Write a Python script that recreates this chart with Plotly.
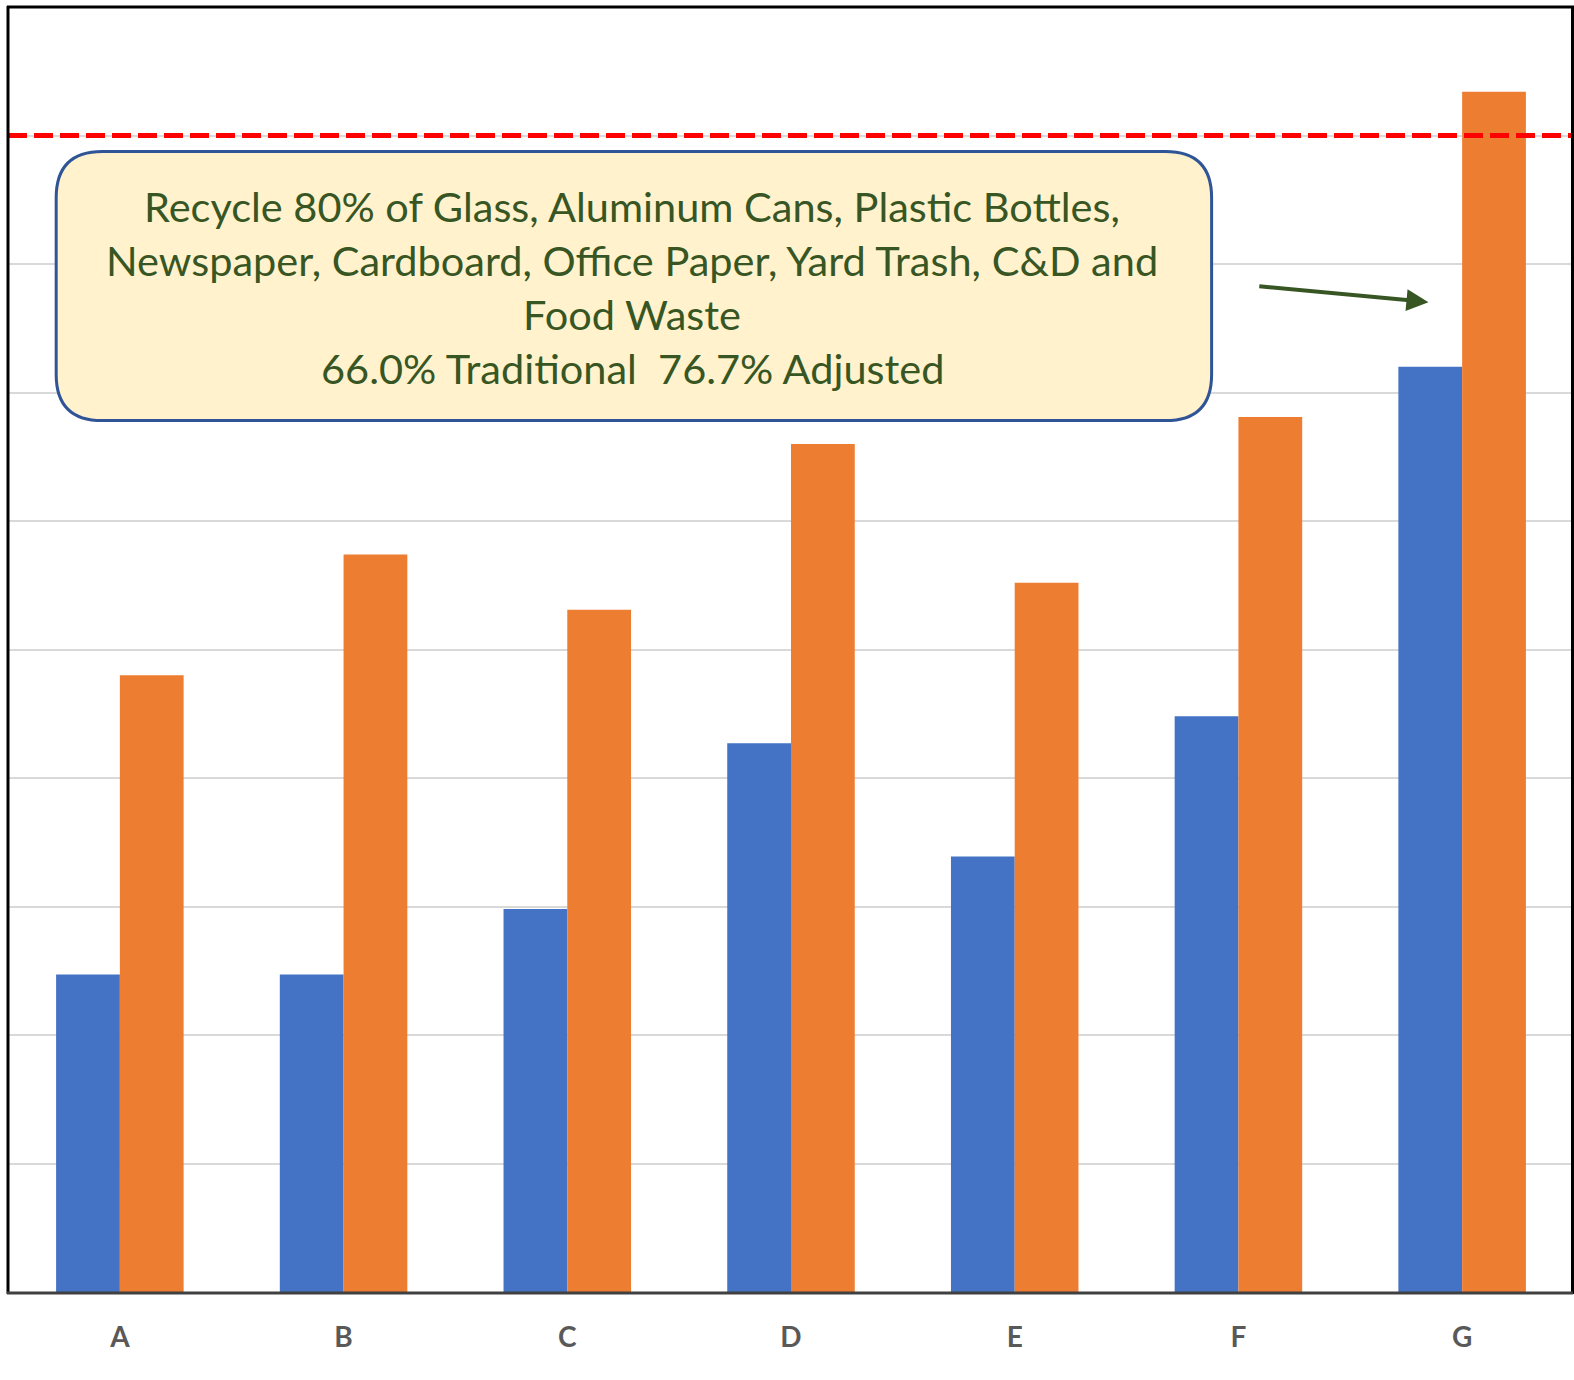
import plotly.graph_objects as go

categories = ["A", "B", "C", "D", "E", "F", "G"]
traditional = [24.7, 24.7, 29.8, 42.7, 33.9, 44.8, 72.0]
adjusted = [48.0, 57.4, 53.1, 66.0, 55.2, 68.1, 93.4]
goal_value = 90
y_range = [0, 100]
box_lines = [
    "Recycle 80% of Glass, Aluminum Cans, Plastic Bottles,",
    "Newspaper, Cardboard, Office Paper, Yard Trash, C&D and",
    "Food Waste",
    "66.0% Traditional  76.7% Adjusted",
]

W, H = 1574, 1380
S = 1574 / 1568  # measurements were read on a 1568-wide view


def s(v):
    return v * S


L = s(8)
T = s(7)
PR = s(1568)  # plot right edge
PB = s(1287)  # plot bottom edge
R = W - PR
B = H - PB
PW, PH = PR - L, PB - T


def px(x):
    return (s(x) - L) / PW


def py(y):
    return (PB - s(y)) / PH


fig = go.Figure()
fig.add_trace(go.Bar(x=categories, y=traditional, name="Traditional",
                     marker=dict(color="#4472C4", line=dict(width=0))))
fig.add_trace(go.Bar(x=categories, y=adjusted, name="Adjusted",
                     marker=dict(color="#ED7D31", line=dict(width=0))))

shapes = []
# goal line
shapes.append(dict(type="line", xref="paper", yref="y", x0=0, x1=1,
                   y0=goal_value, y1=goal_value,
                   line=dict(color="#FF0000", width=5, dash="19px,7px")))
# rounded callout box
x0, x1, y0, y1, r = 56, 1207, 151, 419, 46
rx, ry = s(r) / PW, s(r) / PH
X0, X1, Y0, Y1 = px(x0), px(x1), py(y1), py(y0)
path = (f"M{X0+rx},{Y1} L{X1-rx},{Y1} Q{X1},{Y1} {X1},{Y1-ry} "
        f"L{X1},{Y0+ry} Q{X1},{Y0} {X1-rx},{Y0} L{X0+rx},{Y0} "
        f"Q{X0},{Y0} {X0},{Y0+ry} L{X0},{Y1-ry} Q{X0},{Y1} {X0+rx},{Y1} Z")
shapes.append(dict(type="path", xref="paper", yref="paper", path=path,
                   fillcolor="#FFF2CC", line=dict(color="#2F5597", width=3)))
# frame
shapes.append(dict(type="line", xref="paper", yref="paper", x0=px(8), x1=px(8),
                   y0=py(1289), y1=py(6), line=dict(color="black", width=3)))
shapes.append(dict(type="line", xref="paper", yref="paper", x0=px(7), x1=px(1574),
                   y0=py(7), y1=py(7), line=dict(color="black", width=3)))
shapes.append(dict(type="line", xref="paper", yref="paper", x0=px(1566.5), x1=px(1566.5),
                   y0=py(1289), y1=py(6), line=dict(color="black", width=3)))
shapes.append(dict(type="line", xref="paper", yref="paper", x0=px(7), x1=px(1567),
                   y0=py(1288), y1=py(1288), line=dict(color="#404040", width=3)))

annotations = []
line_y = [205, 259, 313, 367]
for txt, yy in zip(box_lines, line_y):
    annotations.append(dict(xref="paper", yref="paper", x=px(630), y=py(yy),
                            text=txt, showarrow=False, xanchor="center", yanchor="middle",
                            font=dict(family="Lato", size=41.5, color="#375623")))
annotations.append(dict(xref="paper", yref="paper", x=px(1423), y=py(301), text="",
                        showarrow=True, ax=s(1253 - 1423), ay=s(285 - 301),
                        arrowhead=2, arrowsize=1.1, arrowwidth=4, arrowcolor="#375623"))

fig.update_layout(
    width=W, height=H,
    margin=dict(l=L, r=R, t=T, b=B),
    paper_bgcolor="white", plot_bgcolor="white",
    barmode="group", bargap=0.43, bargroupgap=0,
    showlegend=False,
    shapes=shapes, annotations=annotations,
    xaxis=dict(showgrid=False, showline=False, ticks="",
               tickfont=dict(family="Lato", size=28, color="#595959", weight="bold"),
               ticklabelstandoff=26),
    yaxis=dict(range=y_range, dtick=10, showgrid=True, gridcolor="#D9D9D9", gridwidth=2,
               showticklabels=False, zeroline=False, showline=False, ticks=""),
)

fig.write_html("out.html", config={"displayModeBar": False},
               post_script="document.body.style.margin='0px';document.body.style.overflow='hidden';")
